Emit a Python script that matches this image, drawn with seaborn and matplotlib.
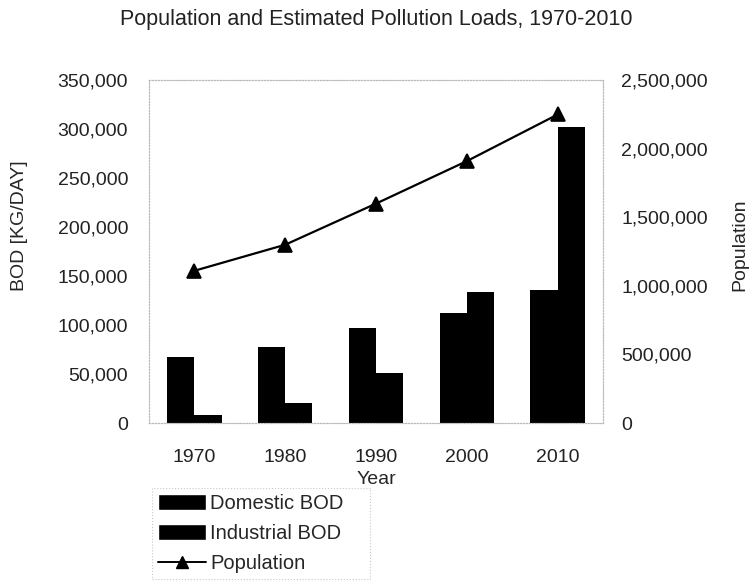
import matplotlib
matplotlib.use("Agg")
import matplotlib.pyplot as plt
import matplotlib.ticker as mticker
from matplotlib.patches import Patch
from matplotlib.lines import Line2D
import seaborn as sns
import pandas as pd

sns.set_style("white")
plt.rcParams['font.family'] = ['Liberation Sans', 'DejaVu Sans']

years = ['1970', '1980', '1990', '2000', '2010']
domestic_bod = [67500, 78000, 97000, 112500, 135500]
industrial_bod = [8000, 20500, 51000, 134000, 302000]
population = [1110000, 1300000, 1600000, 1910000, 2250000]

df = pd.DataFrame({
    'Year': years * 2,
    'BOD': domestic_bod + industrial_bod,
    'Type': ['Domestic BOD'] * 5 + ['Industrial BOD'] * 5,
})
pop_df = pd.DataFrame({'Year': years, 'Population': population})

fig = plt.figure(figsize=(7.52, 5.88), dpi=100)
ax = fig.add_axes([0.198, 0.2806, 0.604, 0.583])

sns.barplot(data=df, x='Year', y='BOD', hue='Type', ax=ax,
            palette=['black', 'black'], width=0.6, gap=0, saturation=1,
            edgecolor='none', legend=False)
ax.set_xlim(-0.5, 4.5)
ax.set_ylim(0, 350000)
ax.yaxis.set_major_locator(mticker.MultipleLocator(50000))
ax.yaxis.set_major_formatter(mticker.FuncFormatter(lambda v, p: f'{int(v):,}'))
ax.set_ylabel('BOD [KG/DAY]', fontsize=14)
ax.yaxis.set_label_coords(-0.266, 0.575)
ax.set_xlabel('Year', fontsize=14, labelpad=3)
ax.tick_params(axis='y', labelsize=14, length=0, pad=15, colors='#222222')
ax.tick_params(axis='x', labelsize=14, length=0, pad=19, colors='#222222')

ax2 = ax.twinx()
sns.pointplot(data=pop_df, x='Year', y='Population', ax=ax2, color='black',
              markers='^', markersize=9.5, linewidth=1.6, native_scale=False)
ax2.set_xlim(-0.5, 4.5)
ax2.set_ylim(0, 2500000)
ax2.yaxis.set_major_locator(mticker.MultipleLocator(500000))
ax2.yaxis.set_major_formatter(mticker.FuncFormatter(lambda v, p: f'{int(v):,}'))
ax2.set_ylabel('Population', fontsize=14)
ax2.yaxis.set_label_coords(1.282, 0.52)
ax2.tick_params(axis='y', labelsize=14, length=0, pad=13, colors='#222222')

for a in (ax, ax2):
    for s in a.spines.values():
        s.set_color('#bbbbbb')
        s.set_linestyle(':')
        s.set_linewidth(0.8)

fig.text(0.5, 0.966, 'Population and Estimated Pollution Loads, 1970-2010',
         fontsize=15.5, ha='center', va='center', color='#222222')

handles = [
    Patch(facecolor='black', label='Domestic BOD'),
    Patch(facecolor='black', label='Industrial BOD'),
    Line2D([0], [0], color='black', marker='^', markersize=9, lw=1.4, label='Population'),
]
leg = fig.legend(handles=handles, loc='upper left',
                 bbox_to_anchor=(0.202, 0.01, 0.29, 0.16), mode='expand',
                 fontsize=14.5, frameon=True, fancybox=False, borderpad=0.3,
                 handlelength=2.4, handleheight=0.8, handletextpad=0.2,
                 labelspacing=0.55, borderaxespad=0)
leg.get_frame().set_edgecolor('#bbbbbb')
leg.get_frame().set_linestyle(':')
leg.get_frame().set_linewidth(0.8)

fig.savefig('out.png', dpi=100)
